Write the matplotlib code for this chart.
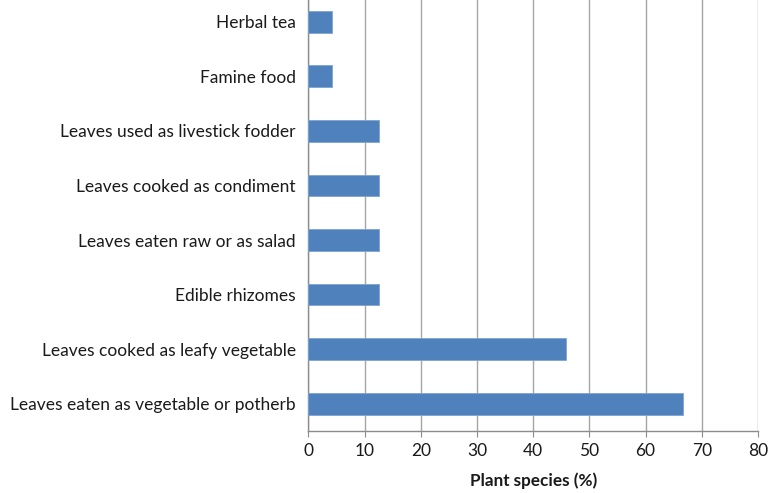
import matplotlib.pyplot as plt

categories = [
    "Herbal tea",
    "Famine food",
    "Leaves used as livestick fodder",
    "Leaves cooked as condiment",
    "Leaves eaten raw or as salad",
    "Edible rhizomes",
    "Leaves cooked as leafy vegetable",
    "Leaves eaten as vegetable or potherb",
]
values = [4.2, 4.2, 12.5, 12.5, 12.5, 12.5, 45.8, 66.7]
x_ticks = [0, 10, 20, 30, 40, 50, 60, 70, 80]

plt.rcParams['font.family'] = ['Lato', 'DejaVu Sans']

fig = plt.figure(figsize=(7.73, 4.93), dpi=100)
ax = fig.add_axes([0.399, 0.1258, 0.5816, 0.8854])

ypos = list(range(len(categories)))
ax.barh(ypos, values, height=0.4, color='#4F81BD', edgecolor='#7FA3D3', linewidth=0.6, zorder=3)

ax.set_ylim(len(categories) - 0.5, -0.5)
ax.set_xlim(0, 80)
ax.set_yticks(ypos)
ax.set_yticklabels(categories, fontsize=12.5, color='#1a1a1a')
ax.set_xticks(x_ticks)
ax.set_xticklabels([str(t) for t in x_ticks], fontsize=12.5, color='#1a1a1a')
ax.tick_params(axis='y', length=0, pad=9)
ax.tick_params(axis='x', length=4, color='#8c8c8c', pad=5)

ax.grid(axis='x', color='#a6a6a6', linewidth=1.0, zorder=0)
for side in ['top', 'right']:
    ax.spines[side].set_visible(False)
for side in ['left', 'bottom']:
    ax.spines[side].set_color('#8c8c8c')
    ax.spines[side].set_linewidth(1.0)

ax.set_xlabel("Plant species (%)", fontsize=12.3, fontweight='bold', color='#1a1a1a', labelpad=9)

fig.savefig("out.png", dpi=100)
